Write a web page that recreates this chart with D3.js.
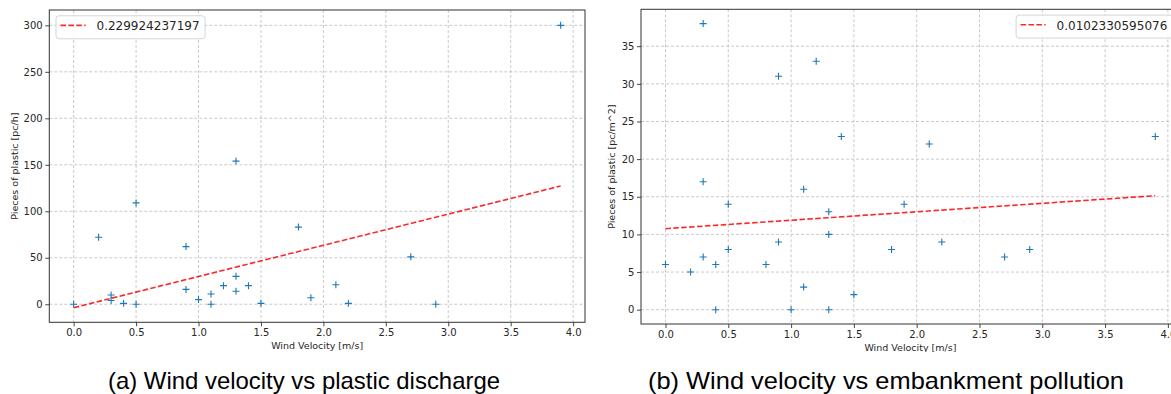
<!DOCTYPE html>
<html>
<head>
<meta charset="utf-8">
<script src="https://cdn.jsdelivr.net/npm/d3@7"></script>
<style>
  body { margin: 0; background: #fff; }
  svg { display: block; }
  text { font-family: 'DejaVu Sans', sans-serif; fill: #262626; }
  .caption { font-family: 'Liberation Sans', Arial, sans-serif; fill: #000; }
</style>
</head>
<body>
<svg id="chart" width="1171" height="394"></svg>
<script>
// panel (a): wind velocity vs plastic discharge
const velocityA = [0.0, 0.2, 0.3, 0.3, 0.4, 0.5, 0.5, 0.9, 0.9, 1.0, 1.1, 1.1, 1.2, 1.3, 1.3, 1.3, 1.4, 1.5, 1.8, 1.9, 2.1, 2.2, 2.7, 2.9, 3.9]
const dischargeA = [0, 72, 10, 4, 1, 109, 0, 62, 16, 5, 11, 0, 20, 154, 30, 14, 20, 1, 83, 7, 21, 1, 51, 0, 300]
const fitXA = [0, 3.9]
const fitYA = [-3.7, 127.2]
const legendA = '0.229924237197'
const yTicksA = [0, 50, 100, 150, 200, 250, 300]

// panel (b): wind velocity vs embankment pollution
const velocityB = [0.0, 0.2, 0.3, 0.3, 0.3, 0.4, 0.4, 0.5, 0.5, 0.8, 0.9, 0.9, 1.0, 1.1, 1.1, 1.2, 1.3, 1.3, 1.3, 1.4, 1.5, 1.8, 1.9, 2.1, 2.2, 2.7, 2.9, 3.9]
const pollutionB = [6, 5, 38, 17, 7, 6, 0, 14, 8, 6, 31, 9, 0, 16, 3, 33, 13, 10, 0, 23, 2, 8, 14, 22, 9, 7, 8, 23]
const fitXB = [0, 3.9]
const fitYB = [10.76, 15.14]
const legendB = '0.0102330595076'
const yTicksB = [0, 5, 10, 15, 20, 25, 30, 35]

const xTicks = [0, 0.5, 1, 1.5, 2, 2.5, 3, 3.5, 4]

const svg = d3.select('#chart')
svg.append('rect').attr('width', 1171).attr('height', 394).attr('fill', '#fff')

// right panel is cut at the bottom in the source figure
const defs = svg.append('defs')
defs.append('clipPath').attr('id', 'clip-b')
  .append('rect').attr('x', 590).attr('y', 0).attr('width', 581).attr('height', 352)

const panels = [
  {
    id: 'a', xs: velocityA, ys: dischargeA, fitX: fitXA, fitY: fitYA, legend: legendA,
    yTicks: yTicksA, yDomain: [-19.4, 316.5], box: { l: 49.3, t: 10, r: 585, b: 322.3 },
    yLabel: 'Pieces of plastic [pc/h]', yLabelX: 17.5, xLabelY: 348.5, legendPos: 'left',
  },
  {
    id: 'b', xs: velocityB, ys: pollutionB, fitX: fitXB, fitY: fitYB, legend: legendB,
    yTicks: yTicksB, yDomain: [-1.9, 39.9], box: { l: 641, t: 9.3, r: 1179.8, b: 324 },
    yLabel: 'Pieces of plastic [pc/m^2]', yLabelX: 614.5, xLabelY: 350.5, legendPos: 'right',
  },
]

panels.forEach((p) => {
  const b = p.box
  const g = svg.append('g').attr('class', 'panel-' + p.id)
  if (p.id === 'b') g.attr('clip-path', 'url(#clip-b)')

  const x = d3.scaleLinear().domain([-0.195, 4.095]).range([b.l, b.r])
  const y = d3.scaleLinear().domain(p.yDomain).range([b.b, b.t])

  // grid
  const grid = g.append('g').attr('class', 'grid')
    .attr('stroke', '#bdbdbd').attr('stroke-width', 0.8).attr('stroke-dasharray', '3,2')
  grid.selectAll('.gx').data(xTicks).enter().append('line')
    .attr('x1', (d) => x(d)).attr('x2', (d) => x(d))
    .attr('y1', b.t).attr('y2', b.b)
  grid.selectAll('.gy').data(p.yTicks).enter().append('line')
    .attr('x1', b.l).attr('x2', b.r)
    .attr('y1', (d) => y(d)).attr('y2', (d) => y(d))

  // axes
  const xAxis = g.append('g')
    .attr('transform', `translate(0,${b.b})`)
    .call(d3.axisBottom(x).tickValues(xTicks).tickFormat(d3.format('.1f')).tickSize(4).tickPadding(3))
  const yAxis = g.append('g')
    .attr('transform', `translate(${b.l},0)`)
    .call(d3.axisLeft(y).tickValues(p.yTicks).tickFormat(d3.format('d')).tickSize(4).tickPadding(2.6))
  ;[xAxis, yAxis].forEach((ax) => {
    ax.select('.domain').remove()
    ax.selectAll('line').attr('stroke', '#333').attr('stroke-width', 0.9)
    ax.selectAll('text').attr('font-size', 10).attr('font-family', 'DejaVu Sans').attr('fill', '#262626')
  })

  // fit line
  const line = d3.line().x((d) => x(d[0])).y((d) => y(d[1]))
  g.append('path')
    .datum(d3.zip(p.fitX, p.fitY))
    .attr('d', line)
    .attr('fill', 'none')
    .attr('stroke', '#ff0000')
    .attr('stroke-opacity', 0.85)
    .attr('stroke-width', 1.6)
    .attr('stroke-dasharray', '5.5,2.4')

  // '+' markers
  const pts = g.append('g').attr('stroke', '#1f77b4').attr('stroke-width', 1.1)
  const arm = 3.5
  pts.selectAll('path').data(d3.zip(p.xs, p.ys)).enter().append('path')
    .attr('d', (d) => {
      const cx = x(d[0]), cy = y(d[1])
      return `M${cx - arm},${cy}H${cx + arm}M${cx},${cy - arm}V${cy + arm}`
    })

  // frame
  g.append('rect')
    .attr('x', b.l).attr('y', b.t).attr('width', b.r - b.l).attr('height', b.b - b.t)
    .attr('fill', 'none').attr('stroke', '#333').attr('stroke-width', 1)

  // axis labels
  g.append('text')
    .attr('x', (b.l + b.r) / 2).attr('y', p.xLabelY)
    .attr('text-anchor', 'middle').attr('font-size', 9.5)
    .text('Wind Velocity [m/s]')
  g.append('text')
    .attr('transform', `translate(${p.yLabelX},${(b.t + b.b) / 2}) rotate(-90)`)
    .attr('text-anchor', 'middle').attr('font-size', 9.5)
    .text(p.yLabel)

  // legend
  const lg = g.append('g').attr('class', 'legend')
  const lbox = lg.append('rect')
  const ltext = lg.append('text').attr('font-size', 12).text(p.legend)
  const tw = ltext.node().getComputedTextLength()
  const bw = tw + 46
  const bx = p.legendPos === 'left' ? b.l + 6.7 : b.r - 7 - bw
  const by = b.t + 5.8
  lbox.attr('x', bx).attr('y', by).attr('width', bw).attr('height', 23)
    .attr('rx', 3).attr('fill', '#fff').attr('fill-opacity', 0.85)
    .attr('stroke', '#d0d0d0').attr('stroke-width', 0.9)
  lg.append('line')
    .attr('x1', bx + 4.5).attr('x2', bx + 29.5)
    .attr('y1', by + 9.6).attr('y2', by + 9.6)
    .attr('stroke', '#ff0000').attr('stroke-opacity', 0.85)
    .attr('stroke-width', 1.6).attr('stroke-dasharray', '5.5,2.4')
  ltext.attr('x', bx + 40.5).attr('y', by + 14.6)
})

// captions below each panel
const captions = [
  { text: '(a) Wind velocity vs plastic discharge', x: 108, w: 392 },
  { text: '(b) Wind velocity vs embankment pollution', x: 648, w: 476 },
]
svg.selectAll('.caption').data(captions).enter().append('text')
  .attr('class', 'caption')
  .attr('x', (d) => d.x).attr('y', 388.5)
  .attr('font-size', 24)
  .attr('textLength', (d) => d.w)
  .attr('lengthAdjust', 'spacingAndGlyphs')
  .text((d) => d.text)
</script>
</body>
</html>
